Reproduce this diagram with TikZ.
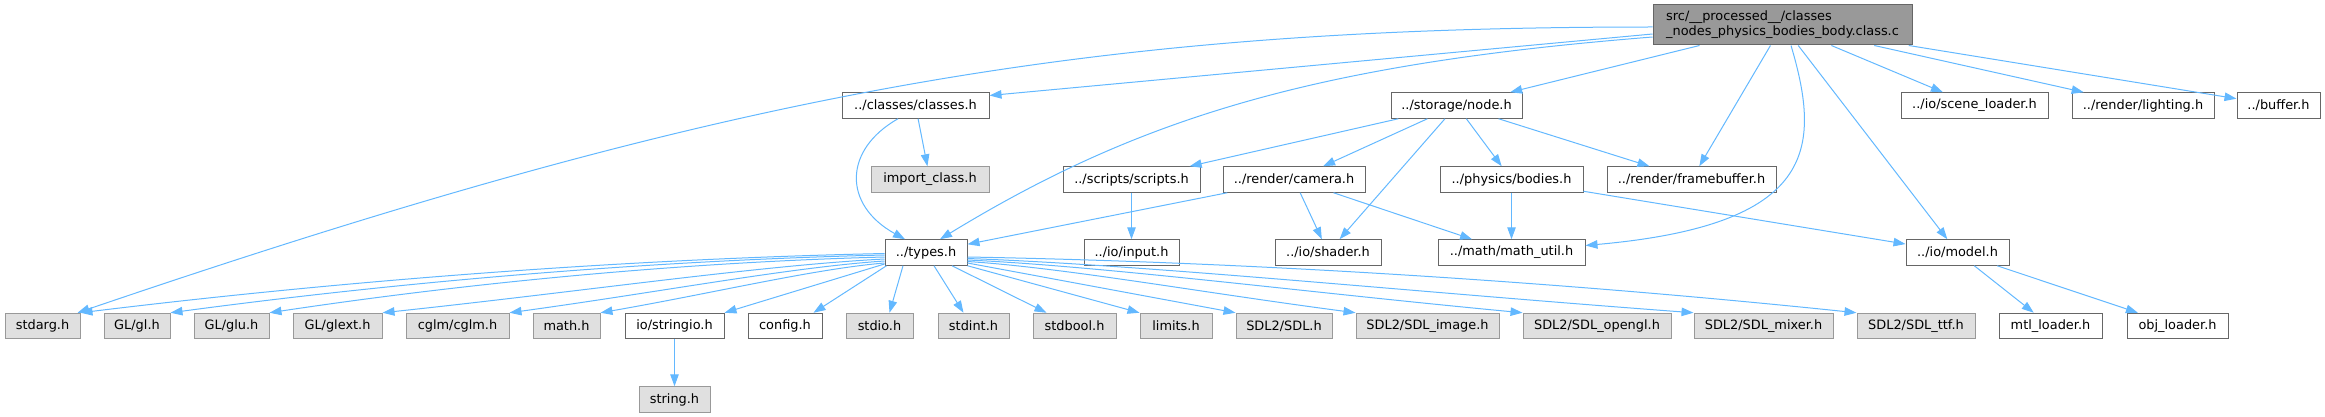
\documentclass[tikz,border=0pt]{standalone}
\usepackage{fontspec}
\setmainfont{DejaVu Sans}
\usetikzlibrary{arrows.meta}
\definecolor{edgec}{HTML}{63B8FF}
\definecolor{bordw}{HTML}{666666}
\definecolor{bordg}{HTML}{999999}
\definecolor{fillg}{HTML}{E0E0E0}
\definecolor{fillr}{HTML}{999999}
\begin{document}
\begin{tikzpicture}[x=1pt,y=-1pt,
  nd/.style={draw=bordw, fill=white, line width=1pt, minimum height=25.5pt,
             inner sep=0pt, font=\fontsize{12.9}{15}\selectfont},
  gr/.style={nd, draw=bordg, fill=fillg},
  rt/.style={nd, draw=bordw, fill=fillr, align=left, minimum height=40pt},
  edg/.style={draw=edgec, line width=1pt, -{Triangle[length=12pt,width=8.5pt]}}]
\useasboundingbox (0,0) rectangle (2325,417);

% row 1
\node[rt, minimum width=259pt] (src) at (1782.5,25) {src/\_\_processed\_\_/classes\\\_nodes\_physics\_bodies\_body.class.c};
% row 2
\node[nd, minimum width=147pt] (classes) at (915.5,105.5) {../classes/classes.h};
\node[nd, minimum width=131pt] (node) at (1456.5,105.5) {../storage/node.h};
\node[nd, minimum width=147pt] (scene) at (1974.5,105.5) {../io/scene\_loader.h};
\node[nd, minimum width=142pt] (lighting) at (2143,105.5) {../render/lighting.h};
\node[nd, minimum width=83pt] (buffer) at (2278.5,105.5) {../buffer.h};
% row 3
\node[gr, minimum width=118pt] (import) at (930,179.5) {import\_class.h};
\node[nd, minimum width=137pt] (scripts) at (1131.5,179.5) {../scripts/scripts.h};
\node[nd, minimum width=142pt] (camera) at (1294,179.5) {../render/camera.h};
\node[nd, minimum width=143pt] (bodies) at (1511.5,179.5) {../physics/bodies.h};
\node[nd, minimum width=169pt] (fb) at (1691.5,179.5) {../render/framebuffer.h};
% row 4
\node[nd, minimum width=82pt] (types) at (926,252.5) {../types.h};
\node[nd, minimum width=95pt] (input) at (1131.5,252.5) {../io/input.h};
\node[nd, minimum width=106pt] (shader) at (1328,252.5) {../io/shader.h};
\node[nd, minimum width=147pt] (mathu) at (1511.5,252.5) {../math/math\_util.h};
\node[nd, minimum width=103pt] (model) at (1957.5,252.5) {../io/model.h};
% row 5
\node[gr, minimum width=75pt] (stdarg) at (42.5,326) {stdarg.h};
\node[gr, minimum width=66pt] (gl) at (137,326) {GL/gl.h};
\node[gr, minimum width=75pt] (glu) at (231.5,326) {GL/glu.h};
\node[gr, minimum width=89pt] (glext) at (337.5,326) {GL/glext.h};
\node[gr, minimum width=103pt] (cglm) at (457.5,326) {cglm/cglm.h};
\node[gr, minimum width=67pt] (math) at (566.5,326) {math.h};
\node[nd, minimum width=99pt] (stringio) at (674.5,326) {io/stringio.h};
\node[nd, minimum width=74pt] (config) at (785,326) {config.h};
\node[gr, minimum width=67pt] (stdio) at (879.5,326) {stdio.h};
\node[gr, minimum width=71pt] (stdint) at (973.5,326) {stdint.h};
\node[gr, minimum width=83pt] (stdbool) at (1074.5,326) {stdbool.h};
\node[gr, minimum width=72pt] (limits) at (1176,326) {limits.h};
\node[gr, minimum width=96pt] (sdl) at (1284,326) {SDL2/SDL.h};
\node[gr, minimum width=143pt] (sdlimage) at (1427.5,326) {SDL2/SDL\_image.h};
\node[gr, minimum width=148pt] (sdlopengl) at (1597,326) {SDL2/SDL\_opengl.h};
\node[gr, minimum width=139pt] (sdlmixer) at (1763.5,326) {SDL2/SDL\_mixer.h};
\node[gr, minimum width=118pt] (sdlttf) at (1916,326) {SDL2/SDL\_ttf.h};
\node[nd, minimum width=103pt] (mtl) at (2050.5,326) {mtl\_loader.h};
\node[nd, minimum width=101pt] (obj) at (2177.5,326) {obj\_loader.h};
% row 6
\node[gr, minimum width=71pt] (string) at (674.5,399.5) {string.h};

% edges from src
\draw[edg] ([yshift=-2pt]src.west) .. controls (1080,27) and (720,94) .. ([xshift=-3pt]stdarg.north east);
\draw[edg] ([yshift=-9pt]src.west) -- ([yshift=10pt]classes.east);
\draw[edg] ([yshift=-12pt]src.west) .. controls (1320,63.5) and (1142.5,115.7) .. ([xshift=14pt]types.north);
\draw[edg] (src) -- (node);
\draw[edg] (src) -- (fb);
\draw[edg] ([xshift=8.5pt]src.south) .. controls (1822,150) and (1815,225) .. ([yshift=7pt]mathu.east);
\draw[edg] (src) -- (model);
\draw[edg] (src) -- (scene);
\draw[edg] (src) -- (lighting);
\draw[edg] (src) -- (buffer);

% classes
\draw[edg] ([xshift=-17.5pt]classes.south) .. controls (843,150) and (843,205) .. ([xshift=-21pt]types.north);
\draw[edg] (classes) -- (import);

% storage/node
\draw[edg] (node) -- (scripts);
\draw[edg] (node) -- (camera);
\draw[edg] (node) -- (shader);
\draw[edg] (node) -- (bodies);
\draw[edg] (node) -- (fb);

% others
\draw[edg] (scripts) -- (input);
\draw[edg] (camera) -- (types);
\draw[edg] (camera) -- (shader);
\draw[edg] (camera) -- (mathu);
\draw[edg] (bodies) -- (mathu);
\draw[edg] (bodies) -- (model);
\draw[edg] (model) -- (mtl);
\draw[edg] (model) -- (obj);
\draw[edg] (stringio) -- (string);

% types -> left
\draw[edg] ([yshift=-1pt]types.west) .. controls (603.3,259.5) and (321.5,283.3) .. (stdarg.north east);
\draw[edg] ([yshift=-2.5pt]types.west) .. controls (634.8,260.8) and (384.5,284) .. (gl.north east);
\draw[edg] ([yshift=-4.5pt]types.west) .. controls (669.4,262.6) and (453.8,285) .. (glu.north east);
\draw[edg] ([yshift=-6.5pt]types.west) .. controls (759.3,265.5) and (583.2,291.4) .. (glext.north east);
\draw[edg] ([yshift=-8.5pt]types.west) .. controls (791,267.2) and (659.4,292.2) .. (cglm.north east);
\draw[edg] ([yshift=-10.5pt]types.west) .. controls (813.8,269) and (714,293) .. (math.north east);
\draw[edg] ([yshift=-11.5pt]types.west) -- (stringio.north east);
\draw[edg] ([xshift=2pt]types.south west) -- ([xshift=-9pt]config.north east);
% types -> below
\draw[edg] ([xshift=-23pt]types.south) -- ([xshift=10pt]stdio.north);
\draw[edg] ([xshift=8pt]types.south) -- ([xshift=-10pt]stdint.north);
\draw[edg] ([xshift=26pt]types.south) -- ([xshift=-28pt]stdbool.north);
% types -> right
\draw[edg] (types.south east) -- (limits.north west);
\draw[edg] ([yshift=-10.5pt]types.east) -- (sdl.north west);
\draw[edg] ([yshift=-9pt]types.east) .. controls (1064.3,267.7) and (1200.4,292.4) .. (sdlimage.north west);
\draw[edg] ([yshift=-7.5pt]types.east) .. controls (1106,266.4) and (1300.6,291.8) .. (sdlopengl.north west);
\draw[edg] ([yshift=-6pt]types.east) .. controls (1148.8,265) and (1403.2,291.2) .. (sdlmixer.north west);
\draw[edg] ([yshift=-4.5pt]types.east) .. controls (1278.5,262.6) and (1590,285) .. (sdlttf.north west);
\end{tikzpicture}
\end{document}
